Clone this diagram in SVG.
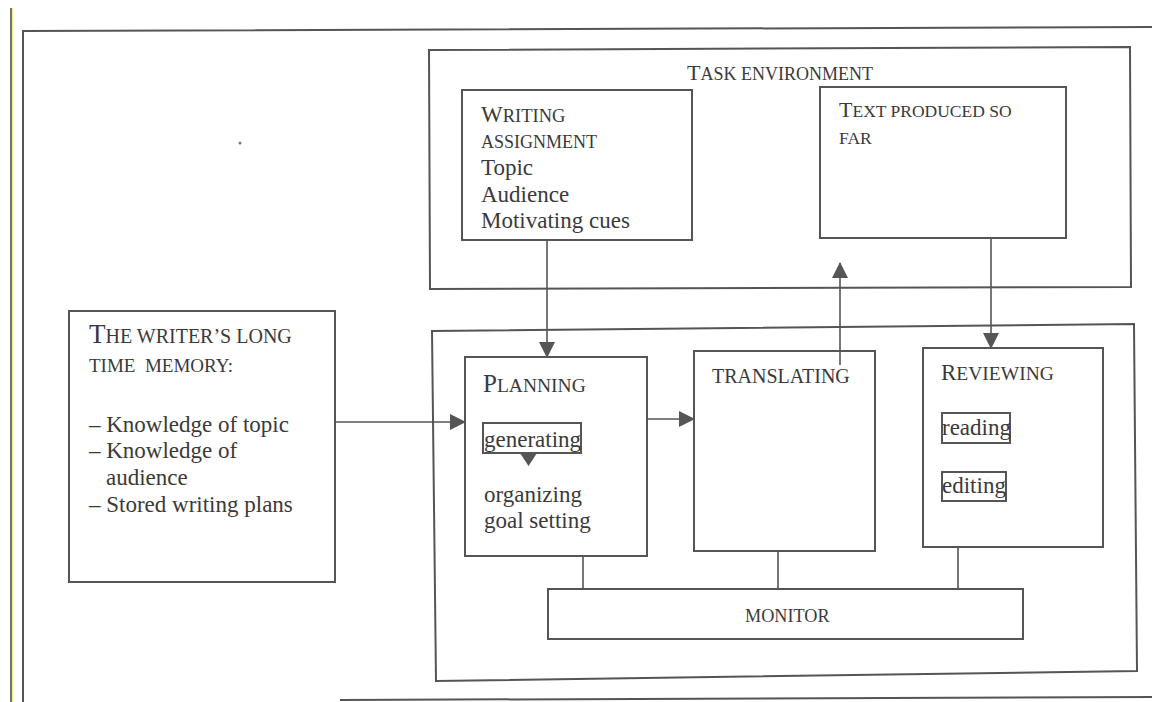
<svg xmlns="http://www.w3.org/2000/svg" width="1152" height="702" viewBox="0 0 1152 702">
<style>
.b{fill:none;stroke:#555;stroke-width:2}
.l{fill:none;stroke:#555;stroke-width:1.6}
.t{font-family:"Liberation Serif","Times New Roman",serif;fill:#3a3a3a}
.n{font-size:23px}
</style>
<defs>
<marker id="ah" markerWidth="16" markerHeight="16" refX="15" refY="8" orient="auto" markerUnits="userSpaceOnUse">
<path d="M0,0 L16,8 L0,16 Z" fill="#555"/>
</marker>
</defs>
<rect width="1152" height="702" fill="#fff"/>
<g id="frame">
<line x1="12.5" y1="8" x2="12.5" y2="702" stroke="#f3ea8a" stroke-width="1"/>
<line x1="11" y1="8" x2="11" y2="702" stroke="#444" stroke-width="1.5"/>
<polyline class="b" points="23,702 23,31 1152,27"/>
<line class="b" x1="340" y1="700" x2="1152" y2="697"/>
<circle cx="240" cy="143" r="1.5" fill="#777"/>
</g>
<g id="task-environment">
<polygon class="b" points="429,50 1130,47 1131,287 430,289"/>
<text class="t" x="687" y="80" font-size="22">T<tspan font-size="18">ASK ENVIRONMENT</tspan></text>
</g>
<g id="writing-assignment">
<rect class="b" x="462" y="90" width="230" height="150"/>
<text class="t" x="481" y="122" font-size="23">W<tspan font-size="18.5">RITING</tspan></text>
<text class="t" x="481" y="148" font-size="18">ASSIGNMENT</text>
<text class="t n" x="481" y="175">Topic</text>
<text class="t n" x="481" y="202">Audience</text>
<text class="t n" x="481" y="228">Motivating cues</text>
</g>
<g id="text-produced">
<rect class="b" x="820" y="87" width="246" height="151"/>
<text class="t" x="839" y="117" font-size="22">T<tspan font-size="17.5">EXT PRODUCED SO</tspan></text>
<text class="t" x="839" y="144" font-size="17.5">FAR</text>
</g>
<g id="memory">
<rect class="b" x="69" y="311" width="266" height="271"/>
<text class="t" x="89" y="343" font-size="27">T<tspan font-size="20">HE WRITER’S LONG</tspan></text>
<text class="t" x="89" y="372" font-size="19" xml:space="preserve">TIME  MEMORY:</text>
<text class="t n" x="89" y="432">– Knowledge of topic</text>
<text class="t n" x="89" y="458">– Knowledge of</text>
<text class="t n" x="106" y="485">audience</text>
<text class="t n" x="89" y="512">– Stored writing plans</text>
</g>
<g id="process">
<polygon class="b" points="432,331 1134,324 1137,671 436,681"/>
</g>
<g id="planning">
<rect class="b" x="465" y="357" width="182" height="199"/>
<text class="t" x="483" y="392" font-size="25">P<tspan font-size="19.5">LANNING</tspan></text>
<rect class="b" x="483" y="423" width="98" height="30"/>
<text class="t n" x="484" y="447">generating</text>
<path d="M520,453 L537,453 L528.5,466 Z" fill="#555"/>
<text class="t n" x="484" y="502">organizing</text>
<text class="t n" x="484" y="528">goal setting</text>
</g>
<g id="translating">
<rect class="b" x="694" y="351" width="181" height="200"/>
<text class="t" x="712" y="383" font-size="20">TRANSLATING</text>
</g>
<g id="reviewing">
<rect class="b" x="923" y="348" width="180" height="199"/>
<text class="t" x="941" y="380" font-size="23">R<tspan font-size="19.5">EVIEWING</tspan></text>
<rect class="b" x="942" y="413" width="68" height="30"/>
<text class="t n" x="942" y="435">reading</text>
<rect class="b" x="942" y="472" width="64" height="29"/>
<text class="t n" x="942" y="493">editing</text>
</g>
<g id="monitor">
<rect class="b" x="548" y="589" width="475" height="50"/>
<text class="t" x="745" y="622" font-size="18.2">MONITOR</text>
</g>
<g id="connectors">
<line class="l" x1="335" y1="422" x2="465" y2="422" marker-end="url(#ah)"/>
<line class="l" x1="647" y1="419" x2="694" y2="419" marker-end="url(#ah)"/>
<line class="l" x1="547" y1="241" x2="547" y2="357" marker-end="url(#ah)"/>
<line class="l" x1="840" y1="365" x2="840" y2="263" marker-end="url(#ah)"/>
<line class="l" x1="991" y1="239" x2="991" y2="348" marker-end="url(#ah)"/>
<line class="l" x1="583" y1="556" x2="583" y2="589"/>
<line class="l" x1="778" y1="551" x2="778" y2="589"/>
<line class="l" x1="958" y1="547" x2="958" y2="589"/>
</g>
</svg>
